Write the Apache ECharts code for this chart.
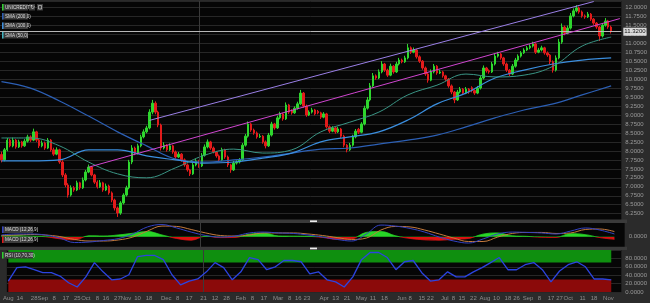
<!DOCTYPE html>
<html><head><meta charset="utf-8">
<script src="https://cdn.jsdelivr.net/npm/echarts@6/dist/echarts.min.js"></script>
<style>html,body{margin:0;padding:0;background:#2b2b2b}#c{width:650px;height:303px}</style>
</head><body><div id="c"></div>
<script>
const opens=[7.90,7.75,8.03,8.30,8.14,8.30,8.11,8.25,8.14,8.27,
8.39,8.30,8.53,8.30,8.14,8.22,8.08,8.30,8.03,7.91,
8.03,7.69,7.33,7.05,6.77,6.97,6.91,7.11,6.97,7.19,
7.41,7.55,7.33,7.13,7.00,7.11,6.91,7.02,6.83,6.63,
6.41,6.27,6.55,6.77,6.97,7.69,8.08,7.94,8.14,8.39,
8.53,8.64,9.08,9.33,9.08,8.72,8.08,8.16,8.03,8.14,
7.97,7.83,7.91,7.75,7.61,7.47,7.36,7.61,7.72,7.58,
7.88,8.11,8.25,8.08,7.97,7.86,7.75,8.03,7.83,7.61,
7.47,7.66,7.69,7.75,8.16,8.41,8.75,8.58,8.50,8.39,
8.41,8.25,8.14,8.44,8.75,8.64,8.92,9.03,8.89,9.28,
9.12,9.06,9.19,9.31,9.61,9.25,9.00,9.08,9.14,9.10,
9.06,8.94,9.03,8.67,8.55,8.64,8.53,8.61,8.41,8.16,
8.03,8.16,8.39,8.60,8.52,8.75,9.19,9.42,9.81,10.09,
10.03,10.20,10.42,10.25,10.11,10.36,10.20,10.42,10.53,10.48,
10.59,10.87,10.75,10.81,10.62,10.50,10.31,10.14,9.97,10.20,
10.36,10.17,10.20,10.09,10.00,9.81,9.64,9.42,9.64,9.72,
9.61,9.72,9.76,9.68,9.61,9.75,10.03,10.31,10.23,10.20,
10.42,10.64,10.70,10.59,10.42,10.25,10.14,10.36,10.53,10.64,
10.73,10.81,10.87,10.92,10.98,10.75,10.81,10.87,10.73,10.67,
10.48,10.25,10.59,11.03,11.45,11.28,11.42,11.76,11.90,11.98,
11.87,11.76,11.73,11.81,11.67,11.56,11.45,11.20,11.50,11.62,
11.45];
const closes=[7.75,8.03,8.30,8.14,8.30,8.11,8.25,8.14,8.27,8.39,
8.30,8.53,8.30,8.14,8.22,8.08,8.30,8.03,7.91,8.03,
7.69,7.33,7.05,6.77,6.97,6.91,7.11,6.97,7.19,7.41,
7.55,7.33,7.13,7.00,7.11,6.91,7.02,6.83,6.63,6.41,
6.27,6.55,6.77,6.97,7.69,8.08,7.94,8.14,8.39,8.53,
8.64,9.08,9.33,9.08,8.72,8.08,8.16,8.03,8.14,7.97,
7.83,7.91,7.75,7.61,7.47,7.36,7.61,7.72,7.58,7.88,
8.11,8.25,8.08,7.97,7.86,7.75,8.03,7.83,7.61,7.47,
7.66,7.69,7.75,8.16,8.41,8.75,8.58,8.50,8.39,8.41,
8.25,8.14,8.44,8.75,8.64,8.92,9.03,8.89,9.28,9.08,
9.06,9.19,9.31,9.61,9.25,9.00,9.08,9.14,9.03,9.06,
8.94,9.03,8.67,8.55,8.64,8.53,8.61,8.41,8.16,8.03,
8.16,8.39,8.55,8.52,8.75,9.19,9.42,9.81,10.09,10.03,
10.20,10.42,10.25,10.11,10.36,10.20,10.42,10.53,10.48,10.59,
10.87,10.75,10.81,10.62,10.50,10.31,10.14,9.97,10.20,10.36,
10.17,10.20,10.09,10.00,9.81,9.64,9.42,9.64,9.72,9.61,
9.72,9.64,9.68,9.61,9.75,10.03,10.31,10.23,10.20,10.42,
10.64,10.70,10.59,10.42,10.25,10.14,10.36,10.53,10.64,10.73,
10.81,10.87,10.92,10.98,10.75,10.81,10.87,10.73,10.67,10.48,
10.25,10.59,11.03,11.45,11.28,11.42,11.76,11.90,11.98,11.87,
11.76,11.73,11.81,11.67,11.56,11.45,11.20,11.50,11.62,11.45,
11.322];
const highs=[7.98,8.08,8.36,8.34,8.37,8.33,8.31,8.28,8.33,8.45,
8.43,8.62,8.56,8.35,8.29,8.26,8.36,8.33,8.09,8.10,
8.06,7.74,7.38,7.10,7.04,7.02,7.17,7.14,7.26,7.47,
7.62,7.58,7.36,7.18,7.19,7.14,7.09,7.06,6.87,6.67,
6.45,6.60,6.82,7.03,7.75,8.16,8.12,8.20,8.45,8.60,
8.70,9.16,9.42,9.38,9.12,8.76,8.24,8.19,8.21,8.17,
8.01,7.97,7.94,7.79,7.65,7.50,7.67,7.78,7.75,7.94,
8.18,8.32,8.28,8.12,8.00,7.90,8.09,8.06,7.87,7.64,
7.72,7.74,7.80,8.22,8.47,8.82,8.78,8.62,8.54,8.47,
8.44,8.29,8.50,8.81,8.78,8.98,9.09,9.06,9.35,9.31,
9.16,9.24,9.37,9.70,9.64,9.29,9.13,9.20,9.17,9.14,
9.09,9.08,9.06,8.71,8.69,8.67,8.67,8.64,8.45,8.19,
8.22,8.45,8.61,8.64,8.80,9.26,9.50,9.89,10.17,10.13,
10.27,10.50,10.45,10.29,10.43,10.39,10.48,10.59,10.57,10.65,
10.98,10.91,10.88,10.84,10.66,10.53,10.35,10.17,10.27,10.42,
10.39,10.26,10.23,10.12,10.03,9.85,9.67,9.70,9.78,9.75,
9.78,9.75,9.80,9.71,9.81,10.10,10.38,10.34,10.27,10.48,
10.71,10.76,10.73,10.62,10.46,10.28,10.42,10.59,10.69,10.78,
10.86,10.92,10.97,11.04,11.01,10.87,10.93,10.90,10.77,10.70,
10.52,10.66,11.12,11.55,11.49,11.49,11.84,11.97,12.06,12.02,
11.91,11.80,11.87,11.84,11.70,11.59,11.48,11.56,11.70,11.65,
11.49];
const lows=[7.68,7.71,7.99,8.10,8.10,8.06,8.08,8.09,8.11,8.23,
8.25,8.27,8.25,8.08,8.10,8.03,8.05,7.98,7.86,7.88,
7.64,7.27,6.99,6.70,6.73,6.86,6.88,6.92,6.94,7.15,
7.38,7.29,7.08,6.95,6.97,6.86,6.88,6.78,6.57,6.34,
6.16,6.22,6.51,6.73,6.93,7.63,7.88,7.90,8.10,8.35,
8.49,8.60,9.02,9.02,8.66,8.01,8.04,7.98,8.00,7.92,
7.78,7.80,7.70,7.56,7.42,7.30,7.33,7.57,7.53,7.55,
7.84,8.07,8.03,7.93,7.81,7.70,7.72,7.78,7.55,7.39,
7.44,7.62,7.65,7.72,8.12,8.37,8.53,8.45,8.34,8.36,
8.20,8.07,8.11,8.40,8.59,8.61,8.88,8.84,8.86,9.03,
9.01,9.03,9.15,9.28,9.20,8.95,8.97,9.04,8.99,9.02,
8.89,8.91,8.62,8.50,8.52,8.48,8.50,8.36,8.10,7.96,
8.00,8.12,8.35,8.47,8.49,8.71,9.15,9.38,9.77,9.98,
10.00,10.16,10.20,10.06,10.08,10.15,10.17,10.38,10.44,10.45,
10.55,10.70,10.72,10.57,10.45,10.26,10.09,9.90,9.94,10.16,
10.12,10.14,10.04,9.95,9.76,9.58,9.33,9.39,9.60,9.56,
9.58,9.59,9.63,9.56,9.58,9.71,9.99,10.18,10.15,10.17,
10.38,10.60,10.54,10.37,10.20,10.08,10.11,10.32,10.49,10.60,
10.70,10.78,10.83,10.88,10.70,10.72,10.77,10.68,10.62,10.42,
10.18,10.21,10.55,10.98,11.22,11.25,11.38,11.72,11.86,11.82,
11.71,11.68,11.70,11.62,11.51,11.40,11.06,11.16,11.46,11.40,
11.27];

// moving averages read every 10 sessions
const smaStep=10;
const sma200=[9.93,9.75,9.39,8.97,8.53,8.14,7.77,7.69,7.75,7.83,7.94,8.05,8.08,8.19,8.30,8.44,8.67,8.92,9.14,9.31,9.56,9.81];
const sma100=[7.72,7.72,7.75,8.03,8.03,7.86,7.75,7.66,7.69,7.80,7.94,8.25,8.39,8.53,8.86,9.31,9.61,10.03,10.25,10.42,10.53,10.59];
const sma50=[8.36,8.36,8.14,7.69,7.36,7.25,7.53,7.88,8.05,7.94,8.03,8.53,8.80,9.08,9.56,9.83,10.14,10.06,10.11,10.36,10.92,11.17];

// MACD read every 5 sessions
const macdStep=5;
const macdLine=[0.10,0.16,0.16,0.10,-0.08,-0.34,-0.31,-0.22,-0.11,0.16,0.57,0.71,0.51,0.27,0.07,-0.02,0.04,0.22,0.27,0.22,0.19,0.10,-0.02,-0.16,-0.25,0.16,0.68,0.62,0.48,0.27,-0.02,-0.25,-0.37,-0.13,0.16,0.27,0.25,0.22,0.16,0.33,0.51,0.39,0.16];
const macdSignal=[0.07,0.10,0.13,0.10,0.01,-0.16,-0.25,-0.25,-0.19,-0.02,0.33,0.62,0.60,0.42,0.22,0.07,0.04,0.10,0.22,0.22,0.22,0.16,0.07,-0.05,-0.16,-0.08,0.39,0.60,0.57,0.39,0.16,-0.08,-0.28,-0.28,-0.02,0.19,0.25,0.25,0.19,0.22,0.42,0.45,0.30];
const macdHist=[0.05,0.06,0.03,0.0,-0.12,-0.18,0.05,0.04,0.1,0.2,0.3,0.1,-0.1,-0.2,0.03,-0.05,-0.04,0.15,0.2,0.04,0.03,0.02,-0.04,-0.15,-0.12,0.25,0.3,0.05,-0.1,-0.18,-0.2,-0.15,-0.1,0.15,0.22,0.05,0.02,-0.03,-0.04,0.18,0.12,-0.05,-0.15];

// RSI read every 3 sessions
const rsiStep=3;
const rsi=[26,58,60,53,46,46,38,22,12,36,70,48,29,31,41,84,87,87,77,41,17,26,31,48,70,58,29,48,82,77,53,60,75,75,72,43,48,29,24,12,36,77,94,94,82,53,72,75,46,26,29,48,36,36,48,58,70,82,53,53,65,70,53,24,50,65,72,60,31,31,29];

// x-axis tick labels: [session index, text]
const xTicks=[[0,'Aug'],[4,'14'],[9,'28'],[12,'Sep'],[16,'8'],[20,'17'],[24,'25'],[27,'Oct'],[31,'8'],[34,'16'],[38,'27'],[41,'Nov'],[45,'10'],[49,'18'],[55,'Dec'],[59,'8'],[63,'17'],[68,'21'],[72,'12'],[76,'28'],[81,'Feb'],[85,'8'],[89,'17'],[94,'Mar'],[98,'8'],[101,'16'],[104,'23'],[110,'Apr'],[114,'13'],[118,'21'],[123,'May'],[127,'11'],[131,'18'],[137,'Jun'],[140,'8'],[144,'15'],[147,'22'],[152,'Jul'],[155,'8'],[158,'15'],[162,'22'],[166,'Aug'],[170,'10'],[174,'18'],[177,'26'],[181,'Sep'],[185,'8'],[189,'17'],[192,'27'],[195,'Oct'],[200,'11'],[204,'18'],[209,'Nov']];

// trend lines: [session index, price]
const trendUpper=[[51,8.85],[204,12.16]];
const trendLower=[[30,7.545],[213,11.685]];
const yearIdx=68;
const blanks=3;

const N=closes.length, M=N+blanks;
const categories=new Array(M).fill('');
xTicks.forEach(([i,t])=>{categories[i]=t;});
function spread(arr,step){const o=new Array(M).fill(null);arr.forEach((v,k)=>{o[k*step]=v;});return o;}
const candles=closes.map((c,i)=>[opens[i],c,lows[i],highs[i]]);
const last=closes[N-1];

const FONT='"Liberation Sans", Arial, sans-serif';
const NARROW='"Liberation Sans Narrow", "Liberation Sans", Arial, sans-serif';
const gridLine='#272727';
const UP='#2ed62e', DOWN='#e21b1b', HUP='#27d627', HDOWN='#dc1212';
function vLine(){return {xAxis:yearIdx,lineStyle:{color:'#3a3a3a',width:1,type:'solid'},label:{show:false}};}

function box(x,y,w,text,strip){
  return {type:'group',x:x,y:y,children:[
    {type:'rect',z:100,shape:{x:0,y:0,width:w,height:6.5},style:{fill:'#3b3b3b'}},
    {type:'rect',z:101,shape:{x:0,y:0,width:1.5,height:6.5},style:{fill:strip}},
    {type:'text',z:102,x:3,y:3.4,style:{text:text,fill:'#dcdcdc',font:'4.6px '+NARROW,verticalAlign:'middle'}}
  ]};
}

const chart=echarts.init(document.getElementById('c'),null,{renderer:'canvas'});
function xAx(g,labels){
  return {type:'category',gridIndex:g,data:categories,boundaryGap:true,axisLine:{show:false},axisTick:{show:false},splitLine:{show:false},
    axisLabel:labels?{show:true,interval:0,fontSize:6,color:'#8e8e8e',margin:3,fontFamily:FONT}:{show:false}};
}
const option={
  animation:false,
  backgroundColor:'#2b2b2b',
  grid:[
    {left:0,right:23,top:1,height:221.7,show:true,backgroundColor:'#060606',borderWidth:0},
    {left:0,right:23,top:223,height:24,show:true,backgroundColor:'#060606',borderWidth:0},
    {left:0,right:23,top:250,height:42,show:true,backgroundColor:'#060606',borderWidth:0}
  ],
  xAxis:[xAx(0,false),xAx(1,false),xAx(2,true)],
  yAxis:[
    {gridIndex:0,type:'value',position:'right',min:6,max:12.175,interval:0.25,
     axisLine:{show:false},axisTick:{show:false},
     axisLabel:{fontSize:6,color:'#9a9a9a',margin:4,fontFamily:FONT,showMaxLabel:false,showMinLabel:false,formatter:v=>v.toFixed(4)},
     splitLine:{show:true,lineStyle:{color:gridLine,width:1}}},
    {gridIndex:1,type:'value',position:'right',min:-0.6,max:0.8,interval:0.2,
     axisLine:{show:false},axisTick:{show:false},
     axisLabel:{fontSize:6,color:'#9a9a9a',margin:4,fontFamily:FONT,formatter:v=>Math.abs(v)<1e-9?'0.0000':''},
     splitLine:{show:false}},
    {gridIndex:2,type:'value',position:'right',min:0,max:100,interval:20,
     axisLine:{show:false},axisTick:{show:false},
     axisLabel:{fontSize:6,color:'#9a9a9a',margin:4,fontFamily:FONT,showMaxLabel:false,formatter:v=>v.toFixed(4)},
     splitLine:{show:true,lineStyle:{color:gridLine,width:1}}}
  ],
  series:[
    {type:'candlestick',xAxisIndex:0,yAxisIndex:0,data:candles,barWidth:'68%',
     itemStyle:{color:UP,color0:DOWN,borderColor:UP,borderColor0:DOWN,borderWidth:1},
     markLine:{symbol:['none','none'],silent:true,animation:false,
       data:[
         vLine(),
         {yAxis:last,lineStyle:{color:'#b8b8b8',width:1,type:'solid'},
          label:{show:true,position:'end',distance:2,formatter:p=>Number(p.value).toFixed(4),
            fontSize:6,color:'#111',backgroundColor:'#dadada',padding:[1,1],fontFamily:FONT}},
         [{coord:trendUpper[0],lineStyle:{color:'#9a7fe6',width:1,type:'solid'},label:{show:false}},{coord:trendUpper[1]}],
         [{coord:trendLower[0],lineStyle:{color:'#cf45cf',width:1,type:'solid'},label:{show:false}},{coord:trendLower[1]}]
       ]}},
    {type:'line',xAxisIndex:0,yAxisIndex:0,data:spread(sma200,smaStep),connectNulls:true,smooth:0.4,showSymbol:false,
     lineStyle:{color:'#2c5fb4',width:1.2},z:3},
    {type:'line',xAxisIndex:0,yAxisIndex:0,data:spread(sma100,smaStep),connectNulls:true,smooth:0.4,showSymbol:false,
     lineStyle:{color:'#3b8ede',width:1.2},z:3},
    {type:'line',xAxisIndex:0,yAxisIndex:0,data:spread(sma50,smaStep),connectNulls:true,smooth:0.4,showSymbol:false,
     lineStyle:{color:'#3a9585',width:1},z:3},
    {id:'hist',type:'line',xAxisIndex:1,yAxisIndex:1,data:spread(macdHist,macdStep),connectNulls:true,smooth:0.4,showSymbol:false,
     lineStyle:{width:0.5,color:HUP},areaStyle:{opacity:1,color:HUP}},
    {type:'line',xAxisIndex:1,yAxisIndex:1,data:spread(macdSignal,macdStep),connectNulls:true,smooth:0.4,showSymbol:false,
     lineStyle:{color:'#c47a3c',width:1},
     markLine:{symbol:['none','none'],silent:true,data:[vLine()]}},
    {type:'line',xAxisIndex:1,yAxisIndex:1,data:spread(macdLine,macdStep),connectNulls:true,smooth:0.4,showSymbol:false,
     lineStyle:{color:'#3443c2',width:1}},
    {type:'line',xAxisIndex:2,yAxisIndex:2,data:spread(rsi,rsiStep),connectNulls:true,smooth:false,showSymbol:false,
     lineStyle:{color:'#2c44e0',width:1.3},z:5,
     markArea:{silent:true,data:[
       [{xAxis:0,yAxis:70,itemStyle:{color:'#0f8f0f'}},{xAxis:N-1,yAxis:100}],
       [{xAxis:0,yAxis:0,itemStyle:{color:'#8b0a0a'}},{xAxis:N-1,yAxis:30}]
     ]},
     markLine:{symbol:['none','none'],silent:true,data:[vLine()]}}
  ],
  graphic:[
    {type:'rect',z:100,shape:{x:0,y:219.5,width:627,height:3.5},style:{fill:'#3a3a3a'}},
    {type:'rect',z:101,shape:{x:310,y:220.4,width:7,height:1.7},style:{fill:'#ececec'}},
    {type:'rect',z:100,shape:{x:0,y:246.8,width:627,height:3.2},style:{fill:'#3a3a3a'}},
    {type:'rect',z:101,shape:{x:310,y:247.6,width:7,height:1.7},style:{fill:'#ececec'}},
    box(2,4,26,'UNICREDIT','#2fcf2f'),
    {type:'group',x:29,y:4,children:[
      {type:'rect',z:100,shape:{x:0,y:0,width:6,height:6.5},style:{fill:'#3b3b3b'}},
      {type:'text',z:101,x:3,y:3.4,style:{text:'↻',fill:'#dcdcdc',font:'6px '+FONT,align:'center',verticalAlign:'middle'}},
      {type:'rect',z:100,shape:{x:8,y:0,width:6,height:6.5},style:{fill:'#3b3b3b'}},
      {type:'rect',z:101,shape:{x:9.5,y:1.5,width:3,height:3.5},style:{fill:'none',stroke:'#dcdcdc',lineWidth:0.6}}
    ]},
    box(2,13,26,'SMA (200,0)','#2c5fb4'),
    box(2,22.5,26,'SMA (100,0)','#3b8ede'),
    box(2,32,26,'SMA (50,0)','#3fb3c0'),
    box(2,226.5,31,'MACD (12,26,9)','#3443c2'),
    box(2,236.5,31,'MACD (12,26,9)','#e01a1a'),
    box(2,252,31,'RSI (10,70,30)','#2fcf2f')
  ]
};
chart.setOption(option);
// colour the histogram area green above zero and red below, using the axis scale
const gTop=223, gH=24;
const zeroPx=chart.convertToPixel({yAxisIndex:1},0);
const off=Math.min(1,Math.max(0,(zeroPx-gTop)/gH));
const grad=new echarts.graphic.LinearGradient(0,gTop,0,gTop+gH,[
  {offset:0,color:HUP},{offset:off,color:HUP},{offset:off,color:HDOWN},{offset:1,color:HDOWN}],true);
chart.setOption({series:[{id:'hist',lineStyle:{color:grad},areaStyle:{color:grad}}]});
</script>
</body></html>
